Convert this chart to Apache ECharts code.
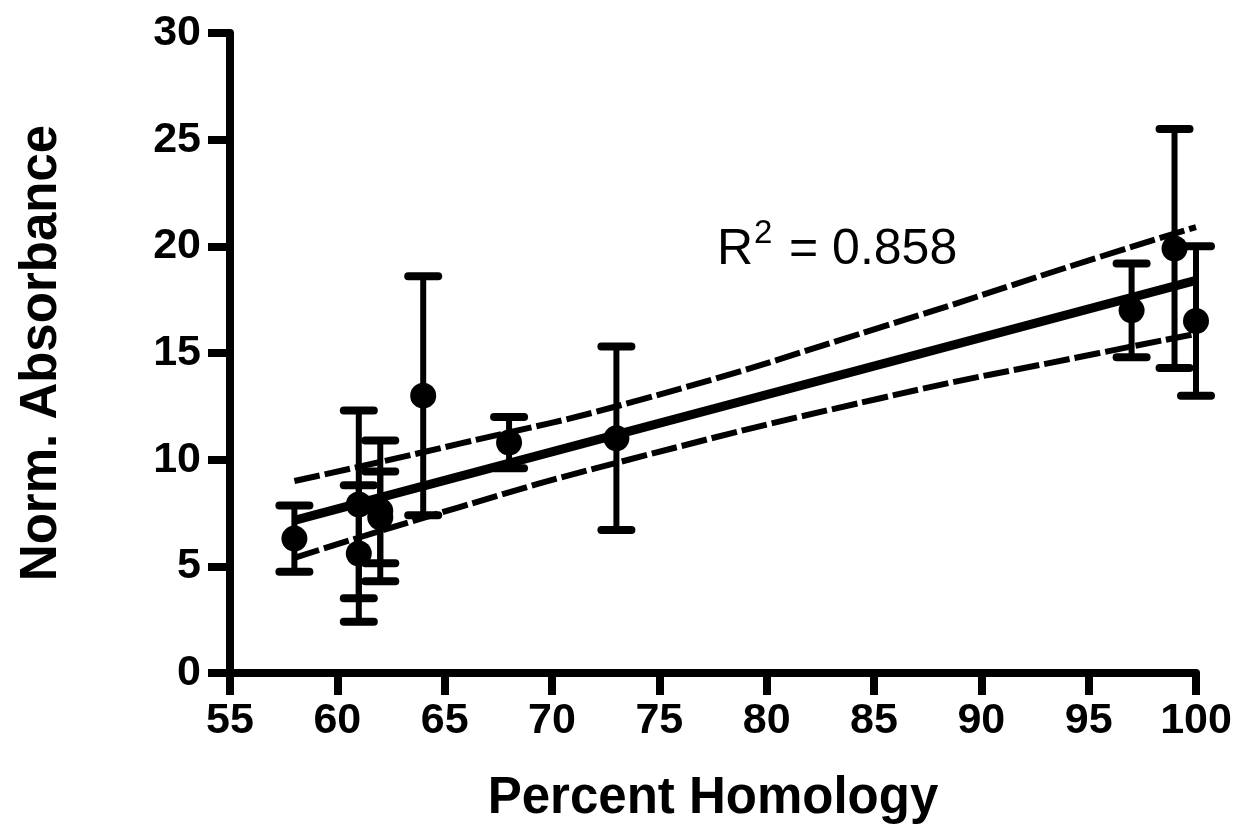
<!DOCTYPE html>
<html lang="en">
<head>
	<meta charset="UTF-8">
	<title>Norm. Absorbance vs Percent Homology</title>
	<script src="https://cdn.jsdelivr.net/npm/echarts@6/dist/echarts.min.js"></script>
	<style>
		html,body{margin:0;padding:0;background:#fff;}
	</style>
</head>
<body>
	<div id="app" style="width: 1238px;height:837px"></div>

	<script>
		// data
		var homology=[58, 61, 61, 62, 62, 64, 68, 73, 97, 99, 100];
		var absorbance=[6.3, 7.9, 5.6, 7.6, 7.3, 13.0, 10.8, 11.0, 17.0, 19.9, 16.5];
		var errors=[1.55, 4.4, 3.2, 3.3, 2.15, 5.6, 1.2, 4.3, 2.2, 5.6, 3.5];

		// regression line and 95% band
		var fitLine=[[58, 7.15], [100, 18.4]];
		var upperBand=[[58, 9.0], [65.7, 10.75], [74.1, 12.8], [85.3, 16.2], [95.5, 19.5], [100, 20.9]];
		var lowerBand=[[58, 5.4], [65.7, 7.78], [73, 9.85], [85.3, 12.88], [95.5, 15.0], [100, 15.9]];

		var xTicks=[55, 100, 5];
		var yTicks=[0, 30, 5];

		var font="'Liberation Sans', Arial, sans-serif";

		var points=homology.map(function(x,i){ return [x, absorbance[i]]; });
		var bars=homology.map(function(x,i){ return [x, absorbance[i]-errors[i], absorbance[i]+errors[i]]; });

		var myChart=echarts.init(document.getElementById('app'));
		var option={
			backgroundColor:'#fff',
			animation:false,
			grid:{left:230, right:42, top:33, bottom:164},
			xAxis:{
				type:'value',
				min:xTicks[0], max:xTicks[1], interval:xTicks[2],
				name:'Percent Homology',
				nameLocation:'middle',
				nameGap:100,
				nameTextStyle:{fontSize:51, fontWeight:'bold', color:'#000', fontFamily:font},
				axisLine:{lineStyle:{color:'#000', width:8}},
				axisTick:{length:22, lineStyle:{color:'#000', width:8}},
				axisLabel:{margin:27, fontSize:43, fontWeight:'bold', color:'#000', fontFamily:font},
				splitLine:{show:false}
			},
			yAxis:{
				type:'value',
				min:yTicks[0], max:yTicks[1], interval:yTicks[2],
				name:'Norm. Absorbance',
				nameLocation:'middle',
				nameGap:163,
				nameTextStyle:{fontSize:51, fontWeight:'bold', color:'#000', fontFamily:font},
				axisLine:{lineStyle:{color:'#000', width:8}},
				axisTick:{length:22, lineStyle:{color:'#000', width:8}},
				axisLabel:{margin:29, fontSize:43, fontWeight:'bold', color:'#000', fontFamily:font},
				splitLine:{show:false}
			},
			graphic:[
				{type:'text', left:717, top:225, style:{text:'R', fontSize:50, fontFamily:font, fill:'#000'}},
				{type:'text', left:754, top:217, style:{text:'2', fontSize:33, fontFamily:font, fill:'#000'}},
				{type:'text', left:789, top:225, style:{text:'= 0.858', fontSize:50, fontFamily:font, fill:'#000'}}
			],
			series:[
			{
				name:'upper',
				type:'line',
				data:upperBand,
				symbol:'none',
				smooth:true,
				lineStyle:{color:'#000', width:6, type:[26, 5]},
				z:2
			},
			{
				name:'lower',
				type:'line',
				data:lowerBand,
				symbol:'none',
				smooth:true,
				lineStyle:{color:'#000', width:6, type:[26, 5]},
				z:2
			},
			{
				name:'fit',
				type:'line',
				data:fitLine,
				symbol:'none',
				lineStyle:{color:'#000', width:9},
				z:3
			},
			{
				name:'sd',
				type:'custom',
				data:bars,
				renderItem:function(params, api){
					var top=api.coord([api.value(0), api.value(2)]);
					var bot=api.coord([api.value(0), api.value(1)]);
					var half=15;
					var st={stroke:'#000', lineWidth:6};
					var cap={stroke:'#000', lineWidth:8, lineCap:'round'};
					return {
						type:'group',
						children:[
							{type:'line', shape:{x1:top[0], y1:top[1], x2:bot[0], y2:bot[1]}, style:st},
							{type:'line', shape:{x1:top[0]-half, y1:top[1], x2:top[0]+half, y2:top[1]}, style:cap},
							{type:'line', shape:{x1:bot[0]-half, y1:bot[1], x2:bot[0]+half, y2:bot[1]}, style:cap}
						]
					};
				},
				z:4
			},
			{
				name:'mean',
				type:'scatter',
				data:points,
				symbol:'circle',
				symbolSize:26,
				itemStyle:{color:'#000', opacity:1},
				z:5
			}
			]
		};
		myChart.setOption(option);
	</script>
</body>
</html>
